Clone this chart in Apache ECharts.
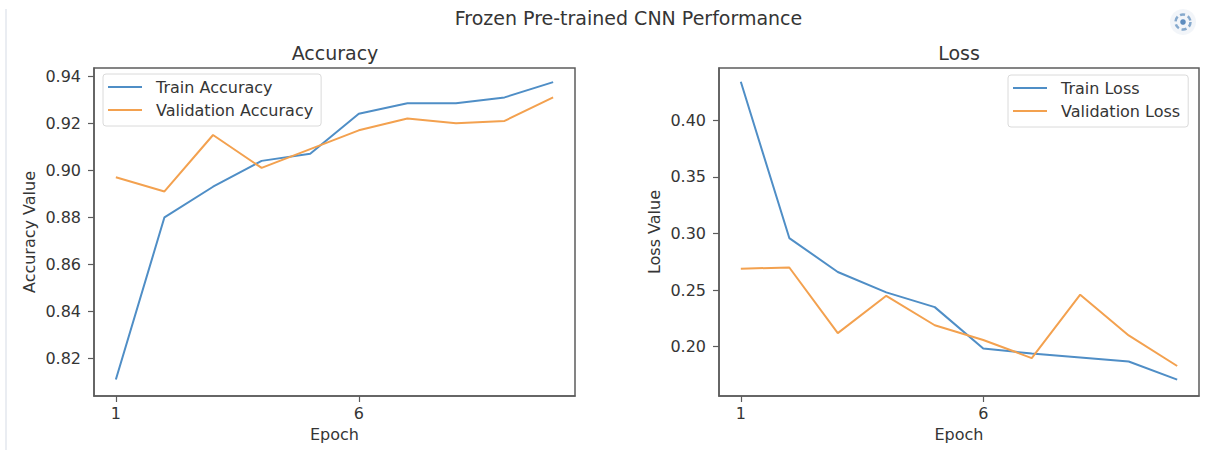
<!DOCTYPE html>
<html>
<head>
<meta charset="utf-8">
<script src="https://cdn.jsdelivr.net/npm/echarts@6/dist/echarts.min.js"></script>
<style>
  html, body { margin: 0; padding: 0; background: #ffffff; }
  #chart { width: 1213px; height: 450px; }
</style>
</head>
<body>
<div id="chart"></div>
<script>
// ---- data ----
const epochs = [1, 2, 3, 4, 5, 6, 7, 8, 9, 10];
const trainAcc = [0.811, 0.880, 0.893, 0.904, 0.907, 0.924, 0.9285, 0.9285, 0.931, 0.9375];
const valAcc = [0.897, 0.891, 0.915, 0.901, 0.909, 0.917, 0.922, 0.920, 0.921, 0.931];
const trainLoss = [0.434, 0.296, 0.266, 0.248, 0.235, 0.1985, 0.194, 0.1905, 0.187, 0.171];
const valLoss = [0.269, 0.270, 0.212, 0.245, 0.219, 0.206, 0.190, 0.246, 0.210, 0.183];
const epochTicks = [1, 6];
const accTicks = [0.82, 0.84, 0.86, 0.88, 0.90, 0.92, 0.94];
const lossTicks = [0.20, 0.25, 0.30, 0.35, 0.40];

// ---- style ----
const FONT = 'DejaVu Sans';
const BLUE = '#4f8ec6';
const ORANGE = '#f3a14f';
const FRAME = '#5c5c5c';
const TXT = '#353535';

const pairs = (ys) => epochs.map((e, i) => [e, ys[i]]);

function xAxisFor(gi) {
  return {
    gridIndex: gi, type: 'value', min: 0.55, max: 10.45,
    splitLine: { show: false },
    axisLine: { show: true, onZero: false, lineStyle: { color: FRAME, width: 1.5 } },
    axisTick: { show: true, length: 6, customValues: epochTicks, lineStyle: { color: FRAME, width: 1.2 } },
    axisLabel: { customValues: epochTicks, margin: 9, fontSize: 16, color: TXT, fontFamily: FONT },
    name: 'Epoch', nameLocation: 'middle', nameGap: 30,
    nameTextStyle: { fontSize: 16, color: TXT, fontFamily: FONT }
  };
}
function yAxisFor(gi, min, max, ticks, name) {
  return {
    gridIndex: gi, type: 'value', min: min, max: max,
    splitLine: { show: false },
    axisLine: { show: true, onZero: false, lineStyle: { color: FRAME, width: 1.5 } },
    axisTick: { show: true, length: 6, customValues: ticks, lineStyle: { color: FRAME, width: 1.2 } },
    axisLabel: { customValues: ticks, margin: 13, fontSize: 16, color: TXT, fontFamily: FONT,
                 formatter: (v) => Number(v).toFixed(2) },
    name: name, nameLocation: 'middle', nameGap: 57,
    nameTextStyle: { fontSize: 16, color: TXT, fontFamily: FONT }
  };
}
function legendFor(names, left, top) {
  return {
    data: names, orient: 'vertical', left: left, top: top,
    icon: 'rect', itemWidth: 34, itemHeight: 2, itemGap: 5,
    padding: [4, 8, 7, 5],
    backgroundColor: 'rgba(255,255,255,0.85)',
    borderColor: '#dadada', borderWidth: 1, borderRadius: 3,
    textStyle: { fontSize: 16, color: TXT, fontFamily: FONT, lineHeight: 18, padding: [0, 0, 0, 9] },
    selectedMode: false
  };
}
function lineSeries(name, gi, ys, color) {
  return {
    name: name, type: 'line', xAxisIndex: gi, yAxisIndex: gi,
    data: pairs(ys), showSymbol: false, symbol: 'none',
    lineStyle: { width: 2, color: color }, itemStyle: { color: color },
    emphasis: { disabled: true }
  };
}

const chart = echarts.init(document.getElementById('chart'), null, { renderer: 'svg' });
chart.setOption({
  animation: false,
  backgroundColor: '#ffffff',
  grid: [
    { left: 94, top: 68, width: 481, height: 328, show: true, borderColor: FRAME, borderWidth: 1.5, backgroundColor: 'transparent' },
    { left: 719, top: 68, width: 480, height: 328, show: true, borderColor: FRAME, borderWidth: 1.5, backgroundColor: 'transparent' }
  ],
  xAxis: [xAxisFor(0), xAxisFor(1)],
  yAxis: [
    yAxisFor(0, 0.804, 0.9435, accTicks, 'Accuracy Value'),
    yAxisFor(1, 0.1565, 0.4462, lossTicks, 'Loss Value')
  ],
  legend: [
    legendFor(['Train Accuracy', 'Validation Accuracy'], 103, 74),
    legendFor(['Train Loss', 'Validation Loss'], 1008, 75)
  ],
  series: [
    lineSeries('Train Accuracy', 0, trainAcc, BLUE),
    lineSeries('Validation Accuracy', 0, valAcc, ORANGE),
    lineSeries('Train Loss', 1, trainLoss, BLUE),
    lineSeries('Validation Loss', 1, valLoss, ORANGE)
  ],
  graphic: [
    { type: 'line', shape: { x1: 6, y1: 9, x2: 6, y2: 450 }, style: { stroke: '#e3e7ee', lineWidth: 1.5 }, silent: true },
    { type: 'text', x: 628.5, y: 17.5, style: { text: 'Frozen Pre-trained CNN Performance', font: '19px "DejaVu Sans"', fill: TXT, textAlign: 'center', textVerticalAlign: 'middle' } },
    { type: 'text', x: 335, y: 52.5, style: { text: 'Accuracy', font: '19px "DejaVu Sans"', fill: TXT, textAlign: 'center', textVerticalAlign: 'middle' } },
    { type: 'text', x: 959, y: 52.5, style: { text: 'Loss', font: '19px "DejaVu Sans"', fill: TXT, textAlign: 'center', textVerticalAlign: 'middle' } },
    { type: 'circle', shape: { cx: 1183, cy: 22, r: 13 }, style: { fill: '#f2f5f9' }, silent: true },
    { type: 'circle', shape: { cx: 1183, cy: 22, r: 7.5 }, style: { fill: 'none', stroke: '#86a9cd', lineWidth: 2.5, lineDash: [5, 3] }, silent: true },
    { type: 'circle', shape: { cx: 1183, cy: 22, r: 2.8 }, style: { fill: '#5d8cbf' }, silent: true }
  ]
});
</script>
</body>
</html>
